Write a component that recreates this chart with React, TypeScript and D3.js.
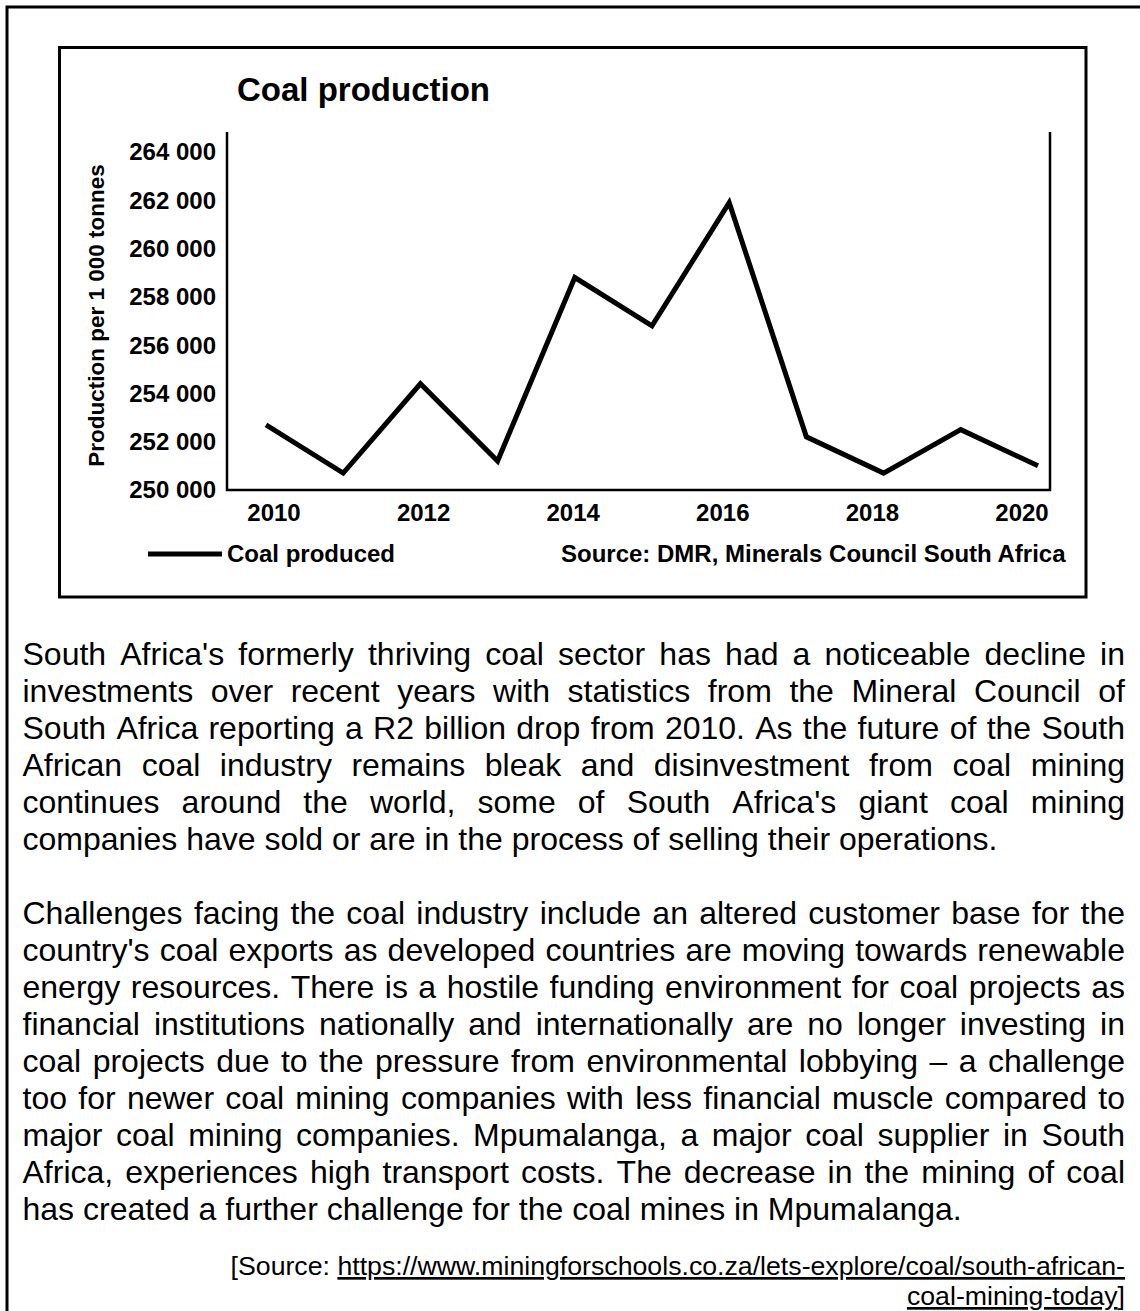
import React from 'react';
import * as d3 from 'd3';

// ---- data ----
const years = [2010, 2011, 2012, 2013, 2014, 2015, 2016, 2017, 2018, 2019, 2020];
const production = [252700, 250700, 254400, 251200, 258800, 256800, 261900, 252200, 250700, 252500, 251000];
const yTickValues = [250000, 252000, 254000, 256000, 258000, 260000, 262000, 264000];
const xTickYears = [2010, 2012, 2014, 2016, 2018, 2020];

const chartTitle = 'Coal production';
const yAxisTitle = 'Production per 1 000 tonnes';
const legendLabel = 'Coal produced';
const chartSource = 'Source: DMR, Minerals Council South Africa';

const paragraph1 = [
  "South Africa's formerly thriving coal sector has had a noticeable decline in",
  'investments over recent years with statistics from the Mineral Council of',
  'South Africa reporting a R2 billion drop from 2010. As the future of the South',
  'African coal industry remains bleak and disinvestment from coal mining',
  "continues around the world, some of South Africa's giant coal mining",
  'companies have sold or are in the process of selling their operations.',
];
const paragraph2 = [
  'Challenges facing the coal industry include an altered customer base for the',
  "country's coal exports as developed countries are moving towards renewable",
  'energy resources. There is a hostile funding environment for coal projects as',
  'financial institutions nationally and internationally are no longer investing in',
  'coal projects due to the pressure from environmental lobbying \u2013 a challenge',
  'too for newer coal mining companies with less financial muscle compared to',
  'major coal mining companies. Mpumalanga, a major coal supplier in South',
  'Africa, experiences high transport costs. The decrease in the mining of coal',
  'has created a further challenge for the coal mines in Mpumalanga.',
];
const sourcePrefix = '[Source: ';
const sourceUrl1 = 'https://www.miningforschools.co.za/lets-explore/coal/south-african-';
const sourceUrl2 = 'coal-mining-today';
const sourceSuffix = ']';

const FONT = "'Liberation Sans', Arial, Helvetica, sans-serif";

let _ctx: CanvasRenderingContext2D | null = null;
function measure(text: string, font: string): number {
  if (!_ctx) _ctx = document.createElement('canvas').getContext('2d');
  if (!_ctx) return text.length * 15;
  _ctx.font = font;
  return _ctx.measureText(text).width;
}

function JustifiedParagraph({ lines, left, right, top, pitch, size }: { lines: string[]; left: number; right: number; top: number; pitch: number; size: number }) {
  const font = `${size}px 'Liberation Sans'`;
  return (
    <g fontFamily={FONT} fontSize={size} fill="#000">
      {lines.map((ln, li) => {
        const yb = top + li * pitch;
        if (li === lines.length - 1) {
          return <text key={li} x={left} y={yb}>{ln}</text>;
        }
        const words = ln.split(' ');
        const widths = words.map((w) => measure(w, font));
        const total = d3.sum(widths);
        const gap = (right - left - total) / (words.length - 1);
        let cx = left;
        return (
          <g key={li}>
            {words.map((w, wi) => {
              const xx = cx;
              cx += widths[wi] + gap;
              return <text key={wi} x={xx} y={yb}>{w}</text>;
            })}
          </g>
        );
      })}
    </g>
  );
}

export default function App() {
  const W = 1140;
  const H = 1311;

  const x = d3.scaleLinear().domain([2010, 2020]).range([266, 1038]);
  const xLabel = d3.scalePoint<number>().domain(xTickYears).range([274, 1022]);
  const y = d3.scaleLinear().domain([250000, 264000]).range([490, 152]);

  const locale = d3.formatLocale({ decimal: '.', thousands: ' ', grouping: [3], currency: ['', ''] });
  const fmt = locale.format(',');

  const linePath = d3
    .line<number>()
    .x((_, i) => x(years[i]))
    .y((d) => y(d))(production) || '';

  const plotLeft = 227;
  const plotRight = 1050;
  const plotTop = 132;
  const plotBottom = 490;

  const srcSize = 26.7;
  const srcFont = `${srcSize}px 'Liberation Sans'`;
  const srcRight = 1125;
  const line1Width = measure(sourcePrefix + sourceUrl1, srcFont);
  const prefixWidth = measure(sourcePrefix, srcFont);
  const line2Width = measure(sourceUrl2 + sourceSuffix, srcFont);
  const url2Width = measure(sourceUrl2, srcFont);

  return (
    <svg
      width={W}
      height={H}
      viewBox={`0 0 ${W} ${H}`}
      style={{ position: 'absolute', left: 0, top: 0, display: 'block', background: '#fff' }}
    >
      <rect x={0} y={0} width={W} height={H} fill="#fff" />
      {/* outer frame */}
      <rect x={7} y={7} width={W + 20} height={H + 20} fill="none" stroke="#000" strokeWidth={3} />
      {/* chart frame */}
      <rect x={59.5} y={47.5} width={1026.5} height={549.5} fill="none" stroke="#000" strokeWidth={3} />

      {/* title */}
      <text x={237} y={101} fontFamily={FONT} fontWeight="bold" fontSize={33} fill="#000">
        {chartTitle}
      </text>

      {/* axes lines */}
      <path
        d={`M${plotLeft},${plotTop}V${plotBottom}H${plotRight}V${plotTop}`}
        fill="none"
        stroke="#000"
        strokeWidth={2.5}
      />

      {/* y ticks */}
      <g fontFamily={FONT} fontWeight="bold" fontSize={24} fill="#000" textAnchor="end">
        {yTickValues.map((v) => (
          <text key={v} x={216} y={y(v)} dy="0.35em">
            {fmt(v)}
          </text>
        ))}
      </g>

      {/* x ticks */}
      <g fontFamily={FONT} fontWeight="bold" fontSize={24} fill="#000" textAnchor="middle">
        {xTickYears.map((yr) => (
          <text key={yr} x={xLabel(yr)} y={521}>
            {yr}
          </text>
        ))}
      </g>

      {/* y axis title */}
      <text
        transform={`translate(104,315.5) rotate(-90)`}
        fontFamily={FONT}
        fontWeight="bold"
        fontSize={22.5}
        textAnchor="middle"
        fill="#000"
      >
        {yAxisTitle}
      </text>

      {/* data line */}
      <path d={linePath} fill="none" stroke="#000" strokeWidth={5} strokeLinejoin="miter" />

      {/* legend */}
      <line x1={148} x2={222} y1={554} y2={554} stroke="#000" strokeWidth={5} />
      <text x={227} y={562} fontFamily={FONT} fontWeight="bold" fontSize={24} fill="#000">
        {legendLabel}
      </text>
      <text x={561} y={562} fontFamily={FONT} fontWeight="bold" fontSize={24} fill="#000">
        {chartSource}
      </text>

      {/* body text */}
      <JustifiedParagraph lines={paragraph1} left={22.5} right={1125} top={665} pitch={37} size={32} />
      <JustifiedParagraph lines={paragraph2} left={22.5} right={1125} top={924} pitch={37} size={32} />

      {/* source */}
      <g fontFamily={FONT} fontSize={srcSize} fill="#000">
        <text x={srcRight - line1Width} y={1275}>{sourcePrefix}</text>
        <text x={srcRight - line1Width + prefixWidth} y={1275} textDecoration="underline">
          {sourceUrl1}
        </text>
        <text x={srcRight - line2Width} y={1305} textDecoration="underline">
          {sourceUrl2}
        </text>
        <text x={srcRight - line2Width + url2Width} y={1305}>{sourceSuffix}</text>
      </g>
    </svg>
  );
}
